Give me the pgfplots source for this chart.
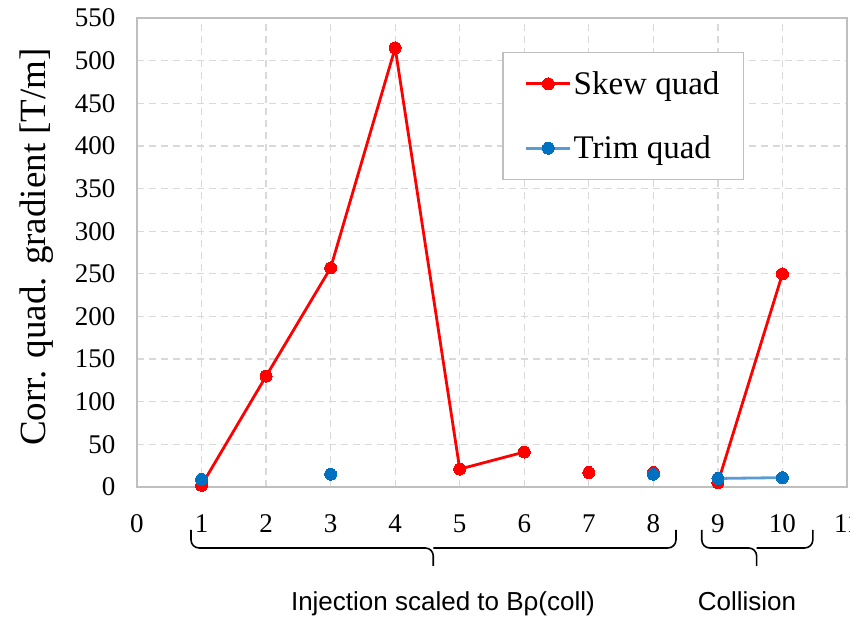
\documentclass[border=0pt]{standalone}
\usepackage{fontspec}
\setmainfont{Liberation Serif}
\newfontfamily\arial{Liberation Sans}
\usepackage{pgfplots}
\pgfplotsset{compat=1.18}
\usetikzlibrary{calc}
\definecolor{trimm}{RGB}{0,112,192}
\definecolor{triml}{RGB}{91,155,213}
\definecolor{gridc}{RGB}{217,217,217}
\definecolor{framec}{RGB}{191,191,191}
\begin{document}
\begin{tikzpicture}
\begin{axis}[
  scale only axis,
  width=710pt, height=469pt,
  xmin=0, xmax=11, ymin=0, ymax=550,
  xtick={0,1,2,3,4,5,6,7,8,9,10,11},
  ytick={0,50,100,150,200,250,300,350,400,450,500,550},
  /pgf/number format/assume math mode=true,
  tick style={draw=none},
  axis line style={framec, line width=1.5pt},
  grid=major,
  major grid style={gridc, dashed, line width=1.2pt, dash pattern=on 7pt off 5pt},
  yticklabel style={font=\fontsize{27}{30}\selectfont, xshift=-18pt},
  xticklabel style={font=\fontsize{27}{30}\selectfont, yshift=-24pt},
  ylabel={Corr. quad. gradient [T/m]},
  every axis y label/.style={at={(axis description cs:-0.1408,0.512)}, rotate=90, anchor=center, font=\fontsize{37}{40}\selectfont},
  unbounded coords=jump,
  clip=false,
  legend cell align=left,
  legend style={at={(axis description cs:0.855,0.9275)}, anchor=north east,
    draw=framec, line width=1.2pt, fill=white,
    font=\fontsize{33}{36}\selectfont,
    inner xsep=22pt, inner ysep=17pt, row sep=36pt,
    nodes={inner sep=2pt}},
  legend image code/.code={\draw[mark repeat=2,mark phase=2] plot coordinates {(0pt,0pt) (22pt,0pt) (44pt,0pt)};},
]
\addplot[red, line width=2.8pt, mark=*, mark size=6pt, mark options={solid, fill=red, draw=red, line width=0pt}]
  coordinates {(1,2) (2,130) (3,257) (4,515) (5,21) (6,41) (6.5,nan) (7,17) (7.5,nan) (8,17) (8.5,nan) (9,5) (10,250)};
\addlegendentry{Skew quad}
\addplot[triml, line width=2.8pt, mark=*, mark size=6pt, mark options={solid, fill=trimm, draw=trimm, line width=0pt}]
  coordinates {(1,9) (2,nan) (3,15) (5,nan) (8,15) (8.5,nan) (9,10) (10,11)};
\addlegendentry{Trim quad}
% braces
\draw[black, line width=1.6pt, rounded corners=8pt] (axis cs:0.837,-50.4) |- (axis cs:4.59,-71.5) -- (axis cs:4.59,-92.6);
\draw[black, line width=1.6pt, rounded corners=8pt] (axis cs:8.35,-50.4) |- (axis cs:4.59,-71.5);
\draw[black, line width=1.6pt, rounded corners=8pt] (axis cs:8.75,-50.4) |- (axis cs:9.6,-71.5) -- (axis cs:9.6,-92.6);
\draw[black, line width=1.6pt, rounded corners=8pt] (axis cs:10.47,-50.4) |- (axis cs:9.6,-71.5);
\node[font=\arial\fontsize{26}{30}\selectfont, anchor=base] at (axis cs:4.74,-145.4) {Injection scaled to Bρ(coll)};
\node[font=\arial\fontsize{26}{30}\selectfont, anchor=base] at (axis cs:9.45,-145.4) {Collision};
\end{axis}
\pgfresetboundingbox
\path[use as bounding box] ($(current axis.south west)+(-137pt,-130pt)$) rectangle ($(current axis.north east)+(3pt,18pt)$);
\end{tikzpicture}
\end{document}
